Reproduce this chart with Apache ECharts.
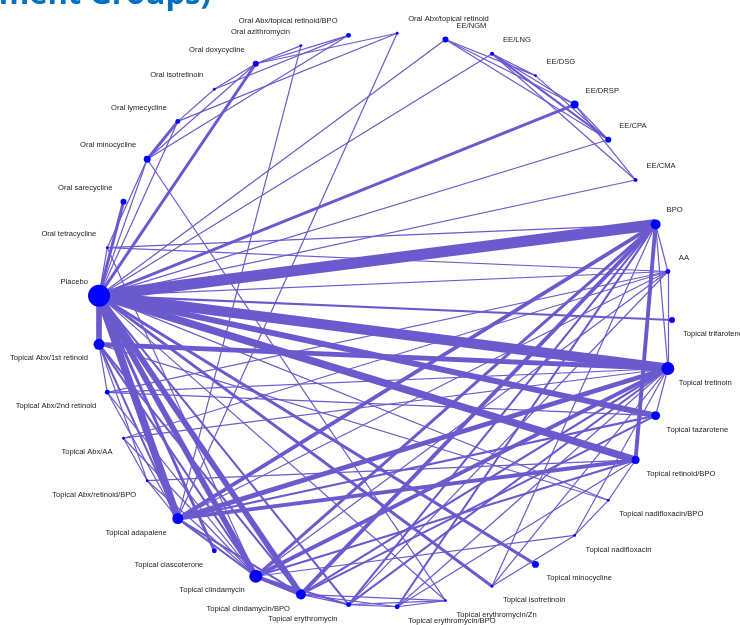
<!DOCTYPE html>
<html>
<head>
<meta charset="utf-8">
<script src="https://cdn.jsdelivr.net/npm/echarts@6/dist/echarts.min.js"></script>
<style>
  html, body { margin: 0; padding: 0; background: #ffffff; }
  #chart { width: 740px; height: 625px; }
</style>
</head>
<body>
<div id="chart"></div>
<script>
// Treatments, in the order they sit around the network circle (anticlockwise from the right)
const treatments = [
  "AA", "BPO", "EE/CMA", "EE/CPA", "EE/DRSP", "EE/DSG", "EE/LNG", "EE/NGM",
  "Oral Abx/topical retinoid", "Oral Abx/topical retinoid/BPO", "Oral azithromycin",
  "Oral doxycycline", "Oral isotretinoin", "Oral lymecycline", "Oral minocycline",
  "Oral sarecycline", "Oral tetracycline", "Placebo", "Topical Abx/1st retinoid",
  "Topical Abx/2nd retinoid", "Topical Abx/AA", "Topical Abx/retinoid/BPO",
  "Topical adapalene", "Topical clascoterone", "Topical clindamycin",
  "Topical clindamycin/BPO", "Topical erythromycin", "Topical erythromycin/BPO",
  "Topical erythromycin/Zn", "Topical isotretinoin", "Topical minocycline",
  "Topical nadifloxacin", "Topical nadifloxacin/BPO", "Topical retinoid/BPO",
  "Topical tazarotene", "Topical tretinoin", "Topical trifarotene"
];

// Relative number of participants per treatment (node area)
const participants = [
  6, 25, 4, 9, 16, 2, 4, 9,
  2, 6, 2,
  9, 2, 6, 12,
  9, 2, 121, 30,
  6, 2, 2,
  30, 6, 42,
  25, 6, 6,
  2, 2, 12,
  2, 2, 16,
  20, 42, 9
];

// Direct comparisons: [treatment A, treatment B, number of studies]
const comparisons = [
  ["Placebo", "BPO", 12],
  ["Placebo", "Topical tretinoin", 11],
  ["Placebo", "Topical retinoid/BPO", 8],
  ["Placebo", "Topical tazarotene", 6],
  ["Placebo", "Topical adapalene", 8],
  ["Placebo", "Topical clindamycin", 6],
  ["Placebo", "Topical clindamycin/BPO", 6],
  ["Placebo", "Topical Abx/1st retinoid", 6],
  ["Placebo", "Topical clascoterone", 3],
  ["Placebo", "Topical erythromycin", 2],
  ["Placebo", "Topical minocycline", 3],
  ["Placebo", "Topical isotretinoin", 3],
  ["Placebo", "Topical trifarotene", 2],
  ["Placebo", "Topical nadifloxacin/BPO", 1],
  ["Placebo", "Topical erythromycin/Zn", 1],
  ["Placebo", "AA", 1],
  ["Placebo", "Oral tetracycline", 1],
  ["Placebo", "Oral sarecycline", 3],
  ["Placebo", "Oral minocycline", 1],
  ["Placebo", "Oral lymecycline", 1],
  ["Placebo", "Oral doxycycline", 3],
  ["Placebo", "EE/NGM", 1],
  ["Placebo", "EE/LNG", 1],
  ["Placebo", "EE/DRSP", 3],
  ["Placebo", "EE/CPA", 1],
  ["Placebo", "EE/CMA", 1],

  ["Oral minocycline", "Oral lymecycline", 3],
  ["Oral minocycline", "Oral doxycycline", 1],
  ["Oral minocycline", "Oral Abx/topical retinoid/BPO", 1],
  ["Oral minocycline", "Oral tetracycline", 1],
  ["Oral minocycline", "Topical erythromycin/Zn", 1],
  ["Oral doxycycline", "Oral azithromycin", 1],
  ["Oral doxycycline", "Oral Abx/topical retinoid/BPO", 1],
  ["Oral doxycycline", "Oral Abx/topical retinoid", 1],
  ["Oral doxycycline", "Oral isotretinoin", 1],
  ["Oral isotretinoin", "Oral Abx/topical retinoid/BPO", 1],
  ["Oral lymecycline", "Oral Abx/topical retinoid", 1],
  ["Oral lymecycline", "Oral isotretinoin", 1],
  ["Oral azithromycin", "Topical adapalene", 1],
  ["Oral Abx/topical retinoid", "Topical adapalene", 1],
  ["Oral tetracycline", "Topical clindamycin", 1],

  ["EE/NGM", "EE/DSG", 1],
  ["EE/NGM", "EE/DRSP", 1],
  ["EE/NGM", "EE/CPA", 1],
  ["EE/LNG", "EE/DSG", 1],
  ["EE/LNG", "EE/DRSP", 1],
  ["EE/LNG", "EE/CPA", 2],
  ["EE/LNG", "EE/CMA", 1],
  ["EE/DSG", "EE/CPA", 1],
  ["EE/DRSP", "EE/CPA", 1],
  ["EE/DRSP", "EE/CMA", 1],

  ["BPO", "AA", 1],
  ["BPO", "Topical tretinoin", 1],
  ["AA", "Topical tretinoin", 1],
  ["BPO", "Topical retinoid/BPO", 4],
  ["BPO", "Topical adapalene", 4],
  ["BPO", "Topical clindamycin", 3],
  ["BPO", "Topical clindamycin/BPO", 4],
  ["BPO", "Topical erythromycin/BPO", 2],
  ["BPO", "Topical erythromycin", 2],
  ["BPO", "Topical isotretinoin", 1],
  ["BPO", "Oral tetracycline", 1],
  ["AA", "Oral tetracycline", 1],
  ["AA", "Topical Abx/AA", 1],
  ["AA", "Topical clindamycin", 1],
  ["AA", "Topical erythromycin", 1],
  ["AA", "Topical Abx/2nd retinoid", 1],
  ["AA", "Topical adapalene", 1],

  ["Topical tretinoin", "Topical Abx/1st retinoid", 5],
  ["Topical tretinoin", "Topical adapalene", 5],
  ["Topical tretinoin", "Topical clindamycin", 4],
  ["Topical tretinoin", "Topical clindamycin/BPO", 2],
  ["Topical tretinoin", "Topical erythromycin", 2],
  ["Topical tretinoin", "Topical Abx/2nd retinoid", 1],
  ["Topical tretinoin", "Topical Abx/AA", 1],
  ["Topical tretinoin", "Topical isotretinoin", 1],
  ["Topical tretinoin", "Topical tazarotene", 1],
  ["Topical tretinoin", "Topical nadifloxacin", 1],
  ["Topical tretinoin", "Topical erythromycin/BPO", 1],
  ["Topical tazarotene", "Topical adapalene", 2],
  ["Topical tazarotene", "Topical clindamycin/BPO", 2],
  ["Topical tazarotene", "Topical Abx/2nd retinoid", 1],
  ["Topical retinoid/BPO", "Topical adapalene", 4],
  ["Topical retinoid/BPO", "Topical Abx/retinoid/BPO", 1],
  ["Topical retinoid/BPO", "Topical nadifloxacin/BPO", 1],
  ["Topical retinoid/BPO", "Topical clindamycin", 2],
  ["Topical retinoid/BPO", "Topical erythromycin/BPO", 1],
  ["Topical nadifloxacin/BPO", "Topical nadifloxacin", 1],
  ["Topical nadifloxacin/BPO", "Topical Abx/1st retinoid", 1],
  ["Topical nadifloxacin", "Topical clindamycin", 1],
  ["Topical nadifloxacin", "Topical isotretinoin", 1],

  ["Topical clindamycin", "Topical clindamycin/BPO", 4],
  ["Topical clindamycin", "Topical erythromycin", 2],
  ["Topical clindamycin", "Topical adapalene", 2],
  ["Topical clindamycin", "Topical Abx/1st retinoid", 2],
  ["Topical clindamycin/BPO", "Topical erythromycin", 1],
  ["Topical clindamycin/BPO", "Topical erythromycin/BPO", 1],
  ["Topical clindamycin/BPO", "Topical erythromycin/Zn", 1],
  ["Topical clindamycin/BPO", "Topical adapalene", 2],
  ["Topical erythromycin", "Topical erythromycin/BPO", 1],
  ["Topical erythromycin", "Topical erythromycin/Zn", 1],
  ["Topical erythromycin/BPO", "Topical erythromycin/Zn", 1],
  ["Topical Abx/1st retinoid", "Topical adapalene", 2],
  ["Topical Abx/1st retinoid", "Topical Abx/2nd retinoid", 1],
  ["Topical Abx/1st retinoid", "Topical Abx/retinoid/BPO", 1],
  ["Topical Abx/1st retinoid", "Topical clindamycin/BPO", 2],
  ["Topical Abx/2nd retinoid", "Topical adapalene", 1],
  ["Topical Abx/2nd retinoid", "Topical clindamycin", 1],
  ["Topical Abx/AA", "Topical clindamycin", 1],
  ["Topical Abx/AA", "Topical Abx/retinoid/BPO", 1],
  ["Topical Abx/retinoid/BPO", "Topical adapalene", 1],
  ["Topical Abx/retinoid/BPO", "Topical clindamycin", 1]
];

const n = treatments.length;

// Label placement: outward from the node, above for the upper half, left for the left half
function labelFor(i) {
  const a = (i + 1) * 360 / n;           // angle of node i (degrees, anticlockwise)
  const right = Math.cos(a * Math.PI / 180) > 1e-9;
  const upper = Math.sin(a * Math.PI / 180) > 1e-9;
  return {
    show: true,
    position: 'inside',
    align: right ? 'left' : 'right',
    verticalAlign: 'middle',
    offset: [right ? 11 : -11, upper ? -14 : 14],
    color: '#1a1a1a',
    fontSize: 7.6,
    fontFamily: 'Liberation Sans, Arial, sans-serif'
  };
}

const nodes = treatments.map(function (name, i) {
  return {
    name: name,
    value: [1, i],
    symbolSize: 2 * Math.sqrt(participants[i]),
    label: labelFor(i)
  };
});

// Edge width grows with the number of studies
const links = comparisons.map(function (c) {
  return { source: c[0], target: c[1], lineStyle: { width: 0.3 + 0.9 * c[2] } };
});

const chart = echarts.init(document.getElementById('chart'), null, { renderer: 'canvas' });
chart.setOption({
  animation: false,
  backgroundColor: '#ffffff',
  polar: { center: [385, 320], radius: 287 },
  angleAxis: {
    type: 'category',
    data: treatments,
    startAngle: 180 / n,
    clockwise: false,
    show: false
  },
  radiusAxis: { type: 'value', min: 0, max: 1, show: false },
  graphic: [{
    type: 'text',
    style: {
      text: 'Treatment Groups)',
      x: 211, y: 11,
      align: 'right',
      verticalAlign: 'bottom',
      fill: '#0070C0',
      font: 'bold 31px "Open Sans", sans-serif'
    }
  }],
  series: [{
    type: 'graph',
    coordinateSystem: 'polar',
    layout: 'none',
    symbol: 'circle',
    itemStyle: { color: '#0000FF' },
    lineStyle: { color: '#6A5ACD', opacity: 1, curveness: 0 },
    emphasis: { disabled: true },
    data: nodes,
    links: links
  }]
});
</script>
</body>
</html>
